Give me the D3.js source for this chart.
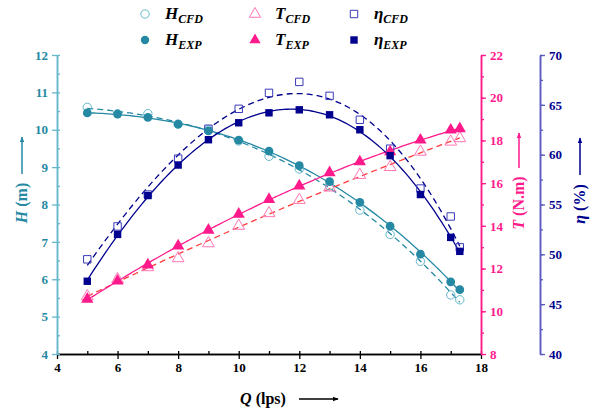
<!DOCTYPE html>
<html>
<head>
<meta charset="utf-8">
<script src="https://cdn.jsdelivr.net/npm/d3@7"></script>
<style>
  body { margin: 0; background: #fff; }
  text { font-family: "Liberation Serif", "Times New Roman", serif; font-weight: bold; }
</style>
</head>
<body>
<div id="chart"></div>
<script>
// pump curves: head, torque, efficiency vs flow (CFD vs experiment)

let Q      = [5, 6, 7, 8, 9, 10, 11, 12, 13, 14, 15, 16, 17, 17.3];
let H_EXP  = [10.45, 10.42, 10.33, 10.15, 9.97, 9.72, 9.43, 9.04, 8.61, 8.06, 7.42, 6.67, 5.93, 5.72];
let H_CFD  = [10.6, 10.43, 10.43, 10.15, 10.0, 9.7, 9.29, 8.95, 8.5, 7.85, 7.2, 6.48, 5.58, 5.45];
let T_EXP  = [10.57, 11.42, 12.17, 13.06, 13.8, 14.55, 15.24, 15.87, 16.49, 17.0, 17.47, 18.02, 18.49, 18.55];
let T_CFD  = [10.7, 11.5, 12.06, 12.48, 13.18, 14.0, 14.59, 15.21, 15.79, 16.38, 16.75, 17.47, 17.94, 18.1];
let E_EXP  = [47.3, 52.0, 55.9, 58.96, 61.5, 63.2, 64.2, 64.5, 64.0, 62.5, 59.9, 56.0, 51.7, 50.3];
let E_CFD  = [49.5, 52.8, 56.0, 59.6, 62.6, 64.6, 66.2, 67.3, 65.9, 63.5, 60.6, 56.6, 53.8, 50.7];

let xTicks = [4, 6, 8, 10, 12, 14, 16, 18];
let hTicks = [4, 5, 6, 7, 8, 9, 10, 11, 12];
let tTicks = [8, 10, 12, 14, 16, 18, 20, 22];
let eTicks = [40, 45, 50, 55, 60, 65, 70];

let margin = { 'top': 55, 'right': 114, 'bottom': 58, 'left': 57 };
let width  = 595 - margin.left - margin.right;
let height = 412 - margin.top - margin.bottom;

let cH  = "#2589a3", cHa = "#66b8cc";
let cT  = "#ff1a8c", cTd = "#ff3b3b", cTo = "#ff77b5";
let cE  = "#00008f", cEa = "#5a5abf", cEo = "#3a3ab8";

let svg = d3.select("#chart").append("svg")
            .attr("width", 595)
            .attr("height", 412);

let defs = svg.append("defs");
[["ahH", cH], ["ahT", cT], ["ahE", cE], ["ahQ", "#000"]].forEach(m => {
  defs.append("marker")
      .attr("id", m[0]).attr("viewBox", "0 0 10 10")
      .attr("refX", 9).attr("refY", 5)
      .attr("markerWidth", 4).attr("markerHeight", 4)
      .attr("orient", "auto")
    .append("path").attr("d", "M0,1 L10,5 L0,9 Z").attr("fill", m[1]);
});

let g = svg.append("g").attr("transform", "translate(" + margin.left + "," + margin.top + ")");

let x  = d3.scaleLinear().domain([4, 18]).range([0, width]);
let yH = d3.scaleLinear().domain([4, 12]).range([height, 0]);
let yT = d3.scaleLinear().domain([8, 22]).range([height, 0]);
let yE = d3.scaleLinear().domain([40, 70]).range([height, 0]);

// least squares polynomial fit (the trend lines)
polyfit = (xs, ys, deg)=>{
  let n = deg + 1;
  let A = [];
  for (let i = 0; i < n; i++) {
    A.push(new Array(n + 1).fill(0));
    for (let j = 0; j < n; j++) A[i][j] = d3.sum(xs, v => Math.pow(v, i + j));
    A[i][n] = d3.sum(xs, (v, k) => ys[k] * Math.pow(v, i));
  }
  for (let c = 0; c < n; c++) {
    let p = c;
    for (let r = c + 1; r < n; r++) if (Math.abs(A[r][c]) > Math.abs(A[p][c])) p = r;
    [A[c], A[p]] = [A[p], A[c]];
    for (let r = 0; r < n; r++) {
      if (r === c) continue;
      let f = A[r][c] / A[c][c];
      for (let k = c; k <= n; k++) A[r][k] -= f * A[c][k];
    }
  }
  let coef = A.map((row, i) => row[n] / row[i]);
  return v => coef.reduce((s, cf, i) => s + cf * Math.pow(v, i), 0);
}

fitLine = (ys, yScale, color, dash, deg)=>{
  let f = polyfit(Q, ys, deg);
  let xs = d3.range(Q[0], Q[Q.length - 1] + 0.001, 0.1);
  g.append("path")
    .datum(xs)
    .attr("fill", "none")
    .attr("stroke", color)
    .attr("stroke-width", 1.3)
    .attr("stroke-dasharray", dash ? "6,4" : null)
    .attr("d", d3.line().x(d => x(d)).y(d => yScale(f(d))));
}

fitLine(H_CFD, yH, cH, true, 3);
fitLine(H_EXP, yH, cH, false, 3);
fitLine(T_CFD, yT, cTd, true, 2);
fitLine(T_EXP, yT, cT, false, 2);
fitLine(E_CFD, yE, cE, true, 3);
fitLine(E_EXP, yE, cE, false, 3);

// markers
let sym = (type, size) => d3.symbol().type(type).size(size)();
plotPts = (ys, yScale, type, size, fill, stroke)=>{
  g.append("g").selectAll("path")
    .data(ys)
    .join("path")
      .attr("transform", (d, i) => "translate(" + x(Q[i]) + "," + yScale(d) + ")")
      .attr("d", sym(type, size))
      .attr("fill", fill)
      .attr("stroke", stroke)
      .attr("stroke-width", 1);
}

plotPts(H_CFD, yH, d3.symbolCircle, 55, "none", cHa);
plotPts(T_CFD, yT, d3.symbolTriangle, 60, "none", cTo);
plotPts(E_CFD, yE, d3.symbolSquare, 55, "none", cEo);
plotPts(H_EXP, yH, d3.symbolCircle, 60, cH, "none");
plotPts(T_EXP, yT, d3.symbolTriangle, 65, cT, "none");
plotPts(E_EXP, yE, d3.symbolSquare, 55, cE, "none");

// axes
styleAxis = (sel, lineColor, textColor)=>{
  sel.select(".domain").attr("stroke", lineColor).attr("stroke-width", 1.5);
  sel.selectAll(".tick line").attr("stroke", lineColor).attr("stroke-width", 1.3);
  sel.selectAll("text").attr("fill", textColor).attr("font-size", 13)
     .attr("font-family", "Liberation Serif").attr("font-weight", "bold");
}

let minor = (dom, step) => d3.range(dom[0], dom[1] + 1e-9, step);

let gx = g.append("g").attr("transform", "translate(0," + height + ")")
  .call(d3.axisBottom(x).tickValues(xTicks).tickSize(5).tickSizeOuter(0).tickPadding(4));
styleAxis(gx, "#000", "#000");
let gx2 = g.append("g").attr("transform", "translate(0," + height + ")")
  .call(d3.axisBottom(x).tickValues(minor([4, 18], 1)).tickSize(-3).tickFormat("").tickSizeOuter(0));
styleAxis(gx2, "#000", "#000");

let gh = g.append("g").call(d3.axisLeft(yH).tickValues(hTicks).tickSize(5).tickSizeOuter(0).tickPadding(4));
styleAxis(gh, cHa, cH);
let gh2 = g.append("g").call(d3.axisLeft(yH).tickValues(minor([4, 12], 0.5)).tickSize(-3).tickFormat("").tickSizeOuter(0));
styleAxis(gh2, cHa, cH);

let gt = g.append("g").attr("transform", "translate(" + width + ",0)")
  .call(d3.axisRight(yT).tickValues(tTicks).tickSize(5).tickSizeOuter(0).tickPadding(4));
styleAxis(gt, cT, cT);
let gt2 = g.append("g").attr("transform", "translate(" + width + ",0)")
  .call(d3.axisRight(yT).tickValues(minor([8, 22], 1)).tickSize(3).tickFormat("").tickSizeOuter(0));
styleAxis(gt2, cT, cT);

let eX = width + 59;
let ge = g.append("g").attr("transform", "translate(" + eX + ",0)")
  .call(d3.axisRight(yE).tickValues(eTicks).tickSize(5).tickSizeOuter(0).tickPadding(4));
styleAxis(ge, cEa, cE);
let ge2 = g.append("g").attr("transform", "translate(" + eX + ",0)")
  .call(d3.axisRight(yE).tickValues(minor([40, 70], 2.5)).tickSize(3).tickFormat("").tickSizeOuter(0));
styleAxis(ge2, cEa, cE);

// axis titles with arrows
vTitle = (cx, cy, sym, unit, color, arrowTop, arrowBot, mk)=>{
  let t = svg.append("text")
    .attr("transform", "translate(" + cx + "," + cy + ") rotate(-90)")
    .attr("text-anchor", "middle")
    .attr("fill", color)
    .attr("font-size", 16);
  t.append("tspan").attr("font-style", "italic").text(sym);
  t.append("tspan").text(" " + unit);
  svg.append("line")
    .attr("x1", cx - 5).attr("x2", cx - 5)
    .attr("y1", arrowBot).attr("y2", arrowTop)
    .attr("stroke", color).attr("stroke-width", 1.5)
    .attr("marker-end", "url(#" + mk + ")");
}

vTitle(27, 203, "H", "(m)", cH, 137, 174, "ahH");
vTitle(524, 203, "T", "(N.m)", cT, 133, 168, "ahT");
vTitle(585, 204, "η", "(%)", cE, 138, 175, "ahE");

let qt = svg.append("text").attr("x", 263).attr("y", 404)
  .attr("text-anchor", "middle").attr("font-size", 16).attr("fill", "#000");
qt.append("tspan").attr("font-style", "italic").text("Q");
qt.append("tspan").text(" (lps)");
svg.append("line").attr("x1", 299).attr("x2", 338).attr("y1", 399).attr("y2", 399)
  .attr("stroke", "#000").attr("stroke-width", 1.5).attr("marker-end", "url(#ahQ)");

// legend
let legend = [
  { sym: "H", sub: "CFD", type: d3.symbolCircle,   fill: "none", stroke: cHa, col: 0, row: 0 },
  { sym: "H", sub: "EXP", type: d3.symbolCircle,   fill: cH,     stroke: "none", col: 0, row: 1 },
  { sym: "T", sub: "CFD", type: d3.symbolTriangle, fill: "none", stroke: cTo, col: 1, row: 0 },
  { sym: "T", sub: "EXP", type: d3.symbolTriangle, fill: cT,     stroke: "none", col: 1, row: 1 },
  { sym: "η", sub: "CFD", type: d3.symbolSquare,   fill: "none", stroke: cEo, col: 2, row: 0 },
  { sym: "η", sub: "EXP", type: d3.symbolSquare,   fill: cE,     stroke: "none", col: 2, row: 1 }
];
let legX = [145, 255, 354];
let legY = [14, 40];

legend.forEach(d => {
  svg.append("path")
    .attr("transform", "translate(" + legX[d.col] + "," + legY[d.row] + ")")
    .attr("d", sym(d.type, 55))
    .attr("fill", d.fill).attr("stroke", d.stroke).attr("stroke-width", 1);
  let t = svg.append("text")
    .attr("x", legX[d.col] + 20).attr("y", legY[d.row] + 5)
    .attr("font-size", 17).attr("font-style", "italic").attr("fill", "#000");
  t.append("tspan").text(d.sym);
  t.append("tspan").attr("font-size", 12).attr("dy", 4).text(d.sub);
});
</script>
</body>
</html>
